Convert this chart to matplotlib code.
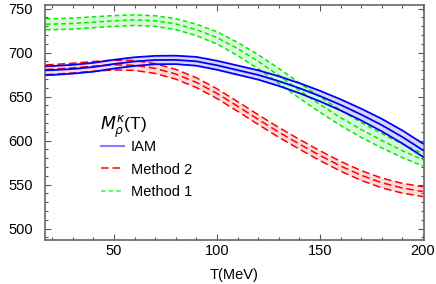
import matplotlib
matplotlib.use("Agg")
import matplotlib.pyplot as plt
from matplotlib.lines import Line2D
from matplotlib.ticker import MultipleLocator

plt.rcParams['font.family'] = ['Liberation Sans', 'DejaVu Sans']

T = [17, 20, 30, 40, 50, 60, 70, 80, 90, 100, 110, 120, 130, 140, 150, 160, 170, 180, 190, 200]

iam_up = [684.5, 684.6, 686.0, 688.3, 691.8, 694.6, 696.2, 696.4, 695.0, 690.6, 685.2, 679.8, 673.0, 665.2, 656.5, 646.8, 636.2, 624.6, 611.4, 596.5]
iam_mid = [679.8, 680.0, 681.3, 683.5, 687.0, 689.8, 691.5, 691.6, 690.0, 685.5, 680.0, 674.5, 667.5, 659.5, 650.5, 640.5, 629.5, 617.5, 604.0, 589.0]
iam_lo = [674.3, 674.5, 676.0, 678.2, 681.8, 684.8, 686.7, 686.8, 685.0, 680.4, 674.8, 669.2, 662.0, 653.8, 644.5, 634.2, 622.8, 610.4, 596.6, 581.5]

m2_mid = [680.8, 681.0, 682.5, 684.5, 686.0, 685.5, 682.0, 675.5, 666.0, 653.5, 639.0, 624.0, 609.5, 596.0, 583.0, 571.0, 560.5, 552.0, 546.0, 542.0]
m2_up = [686.1, 686.3, 687.8, 689.8, 691.3, 690.8, 687.3, 680.8, 671.3, 658.8, 644.3, 629.3, 614.8, 601.3, 588.3, 576.3, 565.8, 557.3, 551.3, 547.5]
m2_lo = [675.0, 675.2, 676.7, 678.7, 680.2, 679.7, 676.2, 669.7, 660.2, 647.7, 633.2, 618.2, 603.7, 590.2, 577.2, 565.2, 554.7, 546.2, 540.2, 536.2]

m1_up = [738.3, 738.4, 739.2, 740.6, 742.0, 742.8, 741.8, 738.5, 732.2, 723.6, 711.5, 697.5, 682.0, 665.5, 649.5, 634.5, 620.5, 608.0, 596.0, 585.0]
m1_mid = [732.2, 732.3, 733.0, 734.5, 736.0, 737.0, 736.0, 732.5, 726.0, 717.0, 704.5, 690.0, 674.0, 657.0, 641.0, 626.0, 612.5, 600.0, 588.5, 578.0]
m1_lo = [725.9, 726.0, 726.6, 728.2, 729.8, 730.8, 729.8, 726.0, 719.2, 709.6, 696.5, 681.5, 665.0, 648.0, 632.0, 617.0, 603.5, 591.5, 580.5, 571.0]

legend_labels = ['IAM', 'Method 2', 'Method 1']
legend_title = r'$M^{\kappa}_{\rho}$(T)'

fig = plt.figure(figsize=(4.36, 2.84), dpi=100)
ax = fig.add_axes([45 / 436, 1 - 239.5 / 284, 379 / 436, 234.5 / 284])

# bands
ax.fill_between(T, iam_lo, iam_up, color='#d8d8f6', lw=0, zorder=1)
ax.fill_between(T, m2_lo, m2_up, color='#fbdada', lw=0, zorder=1)
ax.fill_between(T, m1_lo, m1_up, color='#d8f8d8', lw=0, zorder=1)

for ys in (m2_up, m2_mid, m2_lo):
    ax.plot(T, ys, color='#ff0000', lw=1.1, dashes=(5, 2.5), zorder=2)
for ys in (m1_up, m1_mid, m1_lo):
    ax.plot(T, ys, color='#00ee00', lw=1.1, dashes=(3, 2), zorder=2)
for ys in (iam_up, iam_mid, iam_lo):
    ax.plot(T, ys, color='#0000ff', lw=1.3, zorder=3)

ax.set_xlim(16.5, 200.5)
ax.set_ylim(487.5, 754)
ax.xaxis.set_major_locator(MultipleLocator(50))
ax.xaxis.set_minor_locator(MultipleLocator(10))
ax.yaxis.set_major_locator(MultipleLocator(50))
ax.yaxis.set_minor_locator(MultipleLocator(10))
ax.tick_params(which='both', direction='in', top=True, right=True, colors='#555555',
               labelcolor='black', labelsize=10.5, width=0.8)
ax.tick_params(which='major', length=4)
ax.tick_params(which='minor', length=2)
ax.tick_params(axis='y', pad=8.5)
for s in ax.spines.values():
    s.set_color('#666666')
    s.set_linewidth(1.2)

ax.set_xlabel('T(MeV)', fontsize=10.5, labelpad=7)

# legend title drawn as plain text, entries below it
ax.text(0.145, 0.48, legend_title, transform=ax.transAxes, fontsize=12.5,
        ha='left', va='center')
handles = [Line2D([], [], color='#8080ff', lw=1.5),
           Line2D([], [], color='#ff0000', lw=1.1, dashes=(5, 2.5)),
           Line2D([], [], color='#33ff33', lw=1.1, dashes=(3, 2))]
ax.legend(handles, legend_labels, frameon=False, fontsize=10.5, loc='upper left',
          bbox_to_anchor=(0.132, 0.45), handlelength=1.6, handletextpad=0.45,
          labelspacing=0.6, borderaxespad=0)

fig.savefig('out.png', dpi=100)
